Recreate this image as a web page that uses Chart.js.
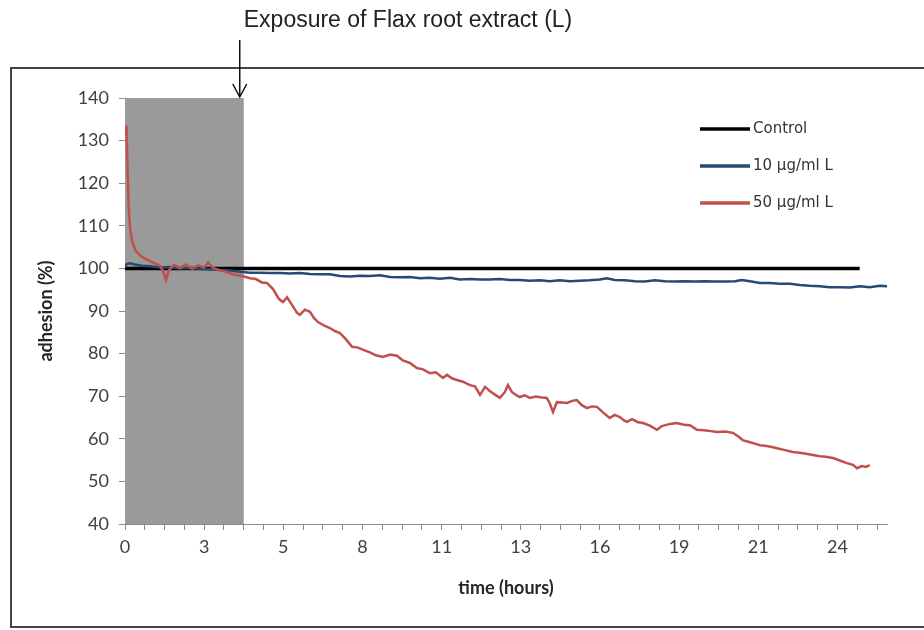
<!DOCTYPE html>
<html>
<head>
<meta charset="utf-8">
<title>Adhesion over time</title>
<script src="https://cdn.jsdelivr.net/npm/chart.js@4.4.1/dist/chart.umd.min.js"></script>
<style>
  html, body { margin: 0; padding: 0; background: #fff; }
</style>
</head>
<body>
<canvas id="myChart" width="924" height="630"></canvas>
<script>
// values (hours, adhesion %)
const controlTime = [0, 4, 8, 12, 16, 20, 24.75];
const controlValues = [100, 100, 100, 100, 100, 100, 100];

const lowTime = [0, 0.05, 0.17, 0.34, 0.57, 0.84, 1.18, 1.52, 1.85, 2.19, 2.53, 2.86, 3.2, 3.54, 3.87,
  4.21, 4.55, 4.88, 5.22, 5.56, 5.89, 6.23, 6.57, 6.9, 7.24, 7.58, 7.92, 8.25, 8.59, 8.93, 9.26, 9.6,
  9.94, 10.27, 10.61, 10.95, 11.28, 11.62, 11.96, 12.29, 12.63, 12.97, 13.3, 13.64, 13.98, 14.31, 14.65,
  14.99, 15.32, 15.66, 16.0, 16.23, 16.5, 16.84, 17.18, 17.51, 17.85, 18.19, 18.52, 18.86, 19.2, 19.53,
  19.87, 20.21, 20.55, 20.78, 21.05, 21.39, 21.72, 22.06, 22.4, 22.73, 23.07, 23.41, 23.74, 24.08, 24.42,
  24.76, 25.09, 25.43, 25.67];
const lowValues = [100.2, 101.0, 101.2, 100.9, 100.6, 100.5, 100.2, 100.3, 100.0, 100.1, 99.9, 99.8, 99.6, 99.5, 99.2,
  99.0, 99.0, 98.9, 98.9, 98.8, 98.9, 98.7, 98.6, 98.6, 98.2, 98.1, 98.3, 98.2, 98.4, 98.0, 97.9, 98.0,
  97.7, 97.8, 97.6, 97.8, 97.4, 97.5, 97.4, 97.4, 97.5, 97.3, 97.3, 97.1, 97.2, 97.0, 97.2,
  97.0, 97.1, 97.2, 97.4, 97.7, 97.3, 97.2, 97.0, 96.9, 97.2, 97.0, 96.9, 97.0, 96.9, 97.0,
  96.9, 96.9, 97.0, 97.3, 97.0, 96.6, 96.6, 96.4, 96.4, 96.1, 95.9, 95.8, 95.6, 95.6, 95.5,
  95.8, 95.6, 95.9, 95.8];

const highTime = [0.02, 0.05, 0.08, 0.12, 0.17, 0.24, 0.34, 0.51, 0.67, 0.84, 1.01, 1.18, 1.28, 1.38, 1.48,
  1.65, 1.85, 2.05, 2.26, 2.46, 2.66, 2.8, 2.96, 3.17, 3.4, 3.6, 3.81, 4.01, 4.21, 4.41, 4.61, 4.78,
  4.98, 5.19, 5.32, 5.46, 5.62, 5.79, 5.89, 6.06, 6.23, 6.37, 6.5, 6.7, 6.9, 7.07, 7.24, 7.44, 7.65,
  7.85, 8.05, 8.25, 8.45, 8.69, 8.93, 9.16, 9.36, 9.6, 9.83, 10.04, 10.27, 10.47, 10.71, 10.85, 11.01,
  11.18, 11.38, 11.62, 11.79, 11.96, 12.13, 12.29, 12.5, 12.63, 12.8, 12.9, 13.03, 13.17, 13.3, 13.47,
  13.64, 13.84, 14.05, 14.21, 14.31, 14.42, 14.55, 14.72, 14.89, 15.06, 15.22, 15.39, 15.56, 15.73,
  15.9, 16.1, 16.33, 16.5, 16.67, 16.81, 16.91, 17.08, 17.28, 17.45, 17.68, 17.92, 18.09, 18.36, 18.59,
  18.83, 19.03, 19.27, 19.5, 19.74, 19.94, 20.21, 20.48, 20.65, 20.81, 21.05, 21.25, 21.39, 21.62,
  21.83, 21.96, 22.2, 22.5, 22.73, 22.94, 23.17, 23.41, 23.61, 23.85, 24.08, 24.32, 24.52, 24.66,
  24.82, 24.96, 25.09];
const highValues = [131, 133.5, 125, 115, 109.5, 106.5, 104.3, 103, 102.3, 101.7, 101.2, 100.6, 99.5, 97.3, 99.6,
  100.8, 100.1, 100.9, 99.9, 100.7, 100.2, 101.4, 100.1, 99.6, 99.2, 98.7, 98.4, 98.1, 97.7, 97.5, 96.7, 96.6,
  95.2, 92.8, 92.1, 93.2, 91.5, 89.6, 89.1, 90.3, 89.8, 88.3, 87.4, 86.6, 86.0, 85.3, 84.8, 83.4, 81.6,
  81.4, 80.8, 80.3, 79.6, 79.2, 79.8, 79.5, 78.4, 77.8, 76.6, 76.3, 75.4, 75.6, 74.3, 75.0, 74.2,
  73.8, 73.4, 72.6, 72.3, 70.3, 72.2, 71.2, 70.2, 69.6, 71.0, 72.6, 71.0, 70.3, 69.8, 70.2,
  69.6, 69.9, 69.7, 69.6, 68.3, 66.3, 68.6, 68.5, 68.4, 68.9, 69.1, 67.9, 67.2, 67.6,
  67.5, 66.2, 64.9, 65.6, 65.1, 64.3, 64.0, 64.6, 63.9, 63.7, 63.1, 62.1, 63.0, 63.5, 63.7,
  63.3, 63.2, 62.1, 62.0, 61.8, 61.6, 61.7, 61.4, 60.6, 59.7, 59.2, 58.8, 58.5, 58.3,
  58.0, 57.8, 57.4, 56.9, 56.7, 56.5, 56.2, 55.9, 55.8, 55.5, 54.9, 54.3, 53.9, 53.1,
  53.6, 53.4, 53.8];

const seriesNames = ["Control", "10 µg/ml L", "50 µg/ml L"];
const exposureEnd = 4; // hours of extract exposure (grey band)
const xTickStep = 2 / 3;
const xMax = 25.67;

function toPoints(xs, ys) {
  return xs.map((x, i) => ({ x: x, y: ys[i] }));
}

const tickFont = { family: "Lato", size: 18 };
const tickColor = "#404040";
const axisColor = "#8c8c8c";

// grey band for the exposure period, plus title, arrow and frame
const decorations = {
  id: "decorations",
  beforeDatasetsDraw(chart) {
    const { ctx, chartArea, scales } = chart;
    const x0 = scales.x.getPixelForValue(0);
    const x1 = scales.x.getPixelForValue(exposureEnd);
    ctx.save();
    ctx.fillStyle = "#9a9a9a";
    ctx.fillRect(x0, chartArea.top, x1 - x0, chartArea.bottom - chartArea.top);
    ctx.restore();
  },
  afterDraw(chart) {
    const { ctx, chartArea, scales } = chart;
    ctx.save();
    // outer frame
    ctx.strokeStyle = "#444";
    ctx.lineWidth = 2;
    ctx.strokeRect(11, 68, 1000, 559);

    // annotation text + arrow
    ctx.fillStyle = "#222";
    ctx.font = "23px 'Liberation Sans'";
    ctx.textAlign = "center";
    ctx.textBaseline = "middle";
    ctx.fillText("Exposure of Flax root extract (L)", 408, 21);

    const ax = scales.x.getPixelForValue(exposureEnd) - 4;
    ctx.strokeStyle = "#111";
    ctx.lineWidth = 1.5;
    ctx.beginPath();
    ctx.moveTo(ax, 40);
    ctx.lineTo(ax, chartArea.top - 1);
    ctx.moveTo(ax - 7, chartArea.top - 14);
    ctx.lineTo(ax, chartArea.top - 1);
    ctx.lineTo(ax + 7, chartArea.top - 14);
    ctx.stroke();

    // legend
    ctx.font = "15px 'DejaVu Sans'";
    ctx.textAlign = "left";
    ctx.fillStyle = "#333";
    chart.data.datasets.forEach((ds, i) => {
      const y = 129 + i * 37;
      ctx.strokeStyle = ds.borderColor;
      ctx.lineWidth = 3.5;
      ctx.beginPath();
      ctx.moveTo(700, y);
      ctx.lineTo(750, y);
      ctx.stroke();
      ctx.fillText(ds.label, 753, y);
    });
    ctx.restore();
  }
};

const ctx = document.getElementById("myChart").getContext("2d");

const myChart = new Chart(ctx, {
  type: "line",
  data: {
    datasets: [
      {
        label: seriesNames[0],
        data: toPoints(controlTime, controlValues),
        borderColor: "#000000",
        borderWidth: 3.5,
        order: 3,
      },
      {
        label: seriesNames[1],
        data: toPoints(lowTime, lowValues),
        borderColor: "#254a74",
        borderWidth: 2.5,
        order: 2,
      },
      {
        label: seriesNames[2],
        data: toPoints(highTime, highValues),
        borderColor: "#c0504d",
        borderWidth: 2.5,
        order: 1,
      },
    ],
  },
  options: {
    responsive: false,
    animation: false,
    events: [],
    elements: {
      point: { radius: 0 },
      line: { tension: 0 },
    },
    layout: {
      padding: { top: 98, left: 35, right: 37, bottom: 31 },
    },
    scales: {
      x: {
        type: "linear",
        min: 0,
        max: xMax,
        afterBuildTicks: (scale) => {
          const ticks = [];
          for (let k = 0; k * xTickStep <= xMax; k++) {
            ticks.push({ value: k * xTickStep });
          }
          scale.ticks = ticks;
        },
        afterFit: (scale) => { scale.height = 75; },
        ticks: {
          autoSkip: false,
          maxRotation: 0,
          padding: 6,
          color: tickColor,
          font: tickFont,
          callback: (value, index) => (index % 4 === 0 ? String(Math.round(value)) : ""),
        },
        grid: {
          drawOnChartArea: false,
          tickLength: 6,
          color: axisColor,
        },
        border: { color: axisColor },
        title: {
          display: true,
          text: "time (hours)",
          color: "#262626",
          font: { family: "Lato", size: 18, weight: "bold" },
          padding: 0,
        },
      },
      y: {
        min: 40,
        max: 140,
        afterFit: (scale) => { scale.width = 90; },
        ticks: {
          stepSize: 10,
          padding: 10,
          color: tickColor,
          font: tickFont,
        },
        grid: {
          drawOnChartArea: false,
          tickLength: 6,
          color: axisColor,
        },
        border: { color: axisColor },
        title: {
          display: true,
          text: "adhesion (%)",
          color: "#262626",
          font: { family: "Lato", size: 18, weight: "bold" },
          padding: 0,
        },
      },
    },
    plugins: {
      legend: { display: false },
      tooltip: { enabled: false },
    },
  },
  plugins: [decorations],
});
</script>
</body>
</html>
